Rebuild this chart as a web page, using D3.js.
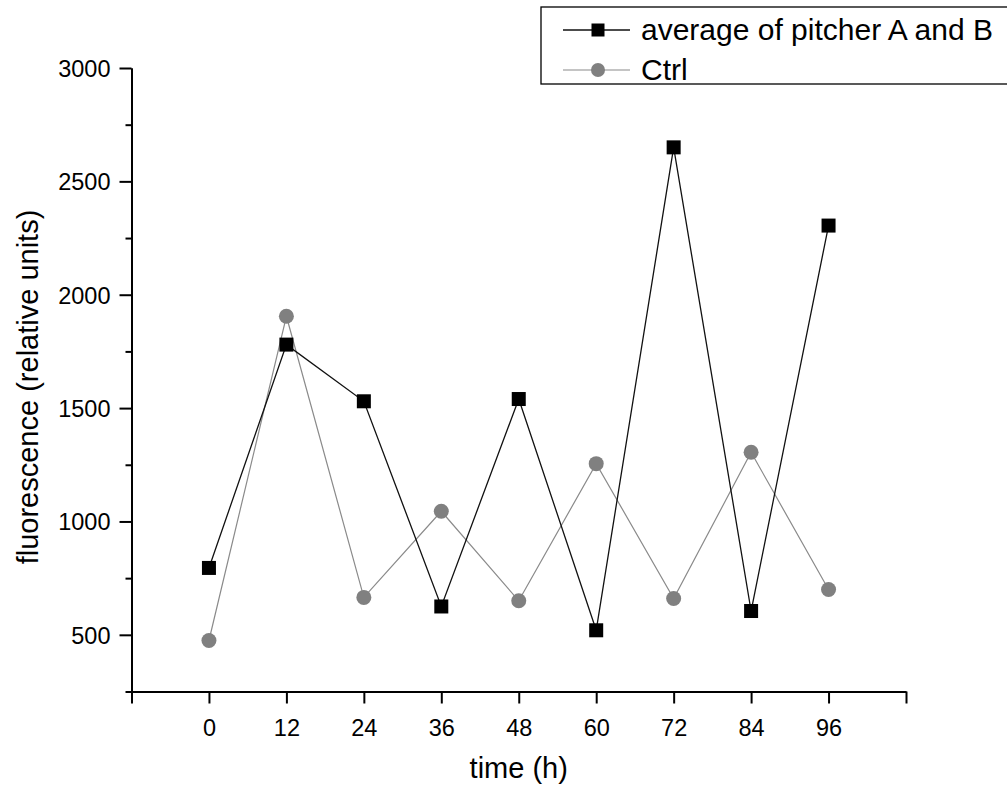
<!DOCTYPE html>
<html>
<head>
<meta charset="utf-8">
<script src="https://cdn.jsdelivr.net/npm/d3@7"></script>
<style>
    body { margin: 0; background: #ffffff; }
    svg { display: block; }
</style>
</head>
<body>
<div id="chart"></div>
<script>
const times = [0, 12, 24, 36, 48, 60, 72, 84, 96];
const pitcherAvg = [795, 1780, 1530, 625, 1540, 520, 2650, 605, 2305];
const ctrl = [475, 1905, 665, 1045, 650, 1255, 660, 1305, 700];

const xTicks = [-12, 0, 12, 24, 36, 48, 60, 72, 84, 96, 108];
const yMajorTicks = [500, 1000, 1500, 2000, 2500, 3000];
const yMinorTicks = [250, 750, 1250, 1750, 2250, 2750];

const seriesNames = ["average of pitcher A and B", "Ctrl"];

function drawChart() {
    const fontFamily = "'Liberation Sans', Arial, sans-serif";
    const totalWidth = 1007,
        totalHeight = 787;
    const margin = {top: 68, right: 101, bottom: 95.5, left: 131.5},
        width = totalWidth - margin.left - margin.right,
        height = totalHeight - margin.top - margin.bottom;

    const svg = d3.select("#chart")
        .append("svg")
            .attr("width", totalWidth)
            .attr("height", totalHeight);

    const g = svg.append("g")
        .attr("transform", "translate(" + margin.left + "," + margin.top + ")");

    const x = d3.scaleLinear()
        .domain([-12, 108])
        .range([0, width]);

    const y = d3.scaleLinear()
        .domain([250, 3000])
        .range([height, 0]);

    // x axis: ticks every 12 h, no labels at the two ends
    const xAxis = g.append("g")
        .attr("transform", "translate(0," + height + ")")
        .call(d3.axisBottom(x)
            .tickValues(xTicks)
            .tickSize(12)
            .tickPadding(10)
            .tickSizeOuter(0)
            .tickFormat(d => (d < 0 || d > 96) ? "" : d));

    // y axis minor ticks first, majors with labels on top
    const yMinor = g.append("g")
        .call(d3.axisLeft(y)
            .tickValues(yMinorTicks)
            .tickSize(6)
            .tickSizeOuter(0)
            .tickFormat(""));

    const yAxis = g.append("g")
        .call(d3.axisLeft(y)
            .tickValues(yMajorTicks)
            .tickSize(12)
            .tickPadding(9)
            .tickSizeOuter(0)
            .tickFormat(d3.format("d")));

    [xAxis, yMinor, yAxis].forEach(a => {
        a.select(".domain")
            .attr("stroke", "#000")
            .attr("stroke-width", 2);
        a.selectAll(".tick line")
            .attr("stroke", "#000")
            .attr("stroke-width", 2);
        a.selectAll(".tick text")
            .style("font-family", fontFamily)
            .style("font-size", "23.5px")
            .attr("fill", "#000");
    });

    xAxis.selectAll(".tick text").attr("dy", "0.95em");
    yAxis.selectAll(".tick text").attr("dy", "0.36em");

    // axis titles
    g.append("text")
        .attr("x", width / 2)
        .attr("y", height + 86)
        .style("font-family", fontFamily)
        .style("font-size", "29px")
        .style("text-anchor", "middle")
        .attr("fill", "#000")
        .text("time (h)");

    g.append("text")
        .attr("transform", "translate(" + (38 - margin.left) + "," + (387 - margin.top) + ") rotate(-90)")
        .style("font-family", fontFamily)
        .style("font-size", "29px")
        .style("text-anchor", "middle")
        .attr("fill", "#000")
        .text("fluorescence (relative units)");

    const series = [
        {name: seriesNames[1], values: ctrl, color: "#8a8a8a", markerColor: "#808080", lineWidth: 1.2, shape: "circle"},
        {name: seriesNames[0], values: pitcherAvg, color: "#111111", markerColor: "#000000", lineWidth: 1.3, shape: "square"}
    ];

    const line = d3.line()
        .x(d => x(d.t))
        .y(d => y(d.v));

    const squareSize = 14;
    const circleR = 7.5;

    series.forEach(s => {
        const pts = times.map((t, i) => ({t: t, v: s.values[i]}));

        g.append("path")
            .datum(pts)
            .attr("fill", "none")
            .attr("stroke", s.color)
            .attr("stroke-width", s.lineWidth)
            .attr("d", line);

        if (s.shape === "square") {
            g.selectAll(".sq")
                .data(pts)
                .join("rect")
                    .attr("class", "sq")
                    .attr("x", d => x(d.t) - squareSize / 2)
                    .attr("y", d => y(d.v) - squareSize / 2)
                    .attr("width", squareSize)
                    .attr("height", squareSize)
                    .attr("fill", s.markerColor);
        } else {
            g.selectAll(".circ")
                .data(pts)
                .join("circle")
                    .attr("class", "circ")
                    .attr("cx", d => x(d.t))
                    .attr("cy", d => y(d.v))
                    .attr("r", circleR)
                    .attr("fill", s.markerColor);
        }
    });

    // legend, box runs off the right edge like the original
    const legend = svg.append("g")
        .attr("transform", "translate(541,7)");

    legend.append("rect")
        .attr("x", 0)
        .attr("y", 0)
        .attr("width", 500)
        .attr("height", 77)
        .attr("fill", "#fff")
        .attr("stroke", "#000")
        .attr("stroke-width", 1.3);

    const legendRows = [series[1], series[0]];
    legendRows.forEach((s, i) => {
        const row = legend.append("g")
            .attr("transform", "translate(0," + (23 + i * 40) + ")");

        row.append("line")
            .attr("x1", 22)
            .attr("x2", 89)
            .attr("y1", 0)
            .attr("y2", 0)
            .attr("stroke", s.color)
            .attr("stroke-width", s.lineWidth);

        if (s.shape === "square") {
            row.append("rect")
                .attr("x", 57 - 6.5)
                .attr("y", -6.5)
                .attr("width", 13)
                .attr("height", 13)
                .attr("fill", s.markerColor);
        } else {
            row.append("circle")
                .attr("cx", 57)
                .attr("cy", 0)
                .attr("r", 7)
                .attr("fill", s.markerColor);
        }

        row.append("text")
            .attr("x", 100)
            .attr("y", 10)
            .style("font-family", fontFamily)
            .style("font-size", "30px")
            .attr("fill", "#000")
            .text(s.name);
    });
}

drawChart();
</script>
</body>
</html>
